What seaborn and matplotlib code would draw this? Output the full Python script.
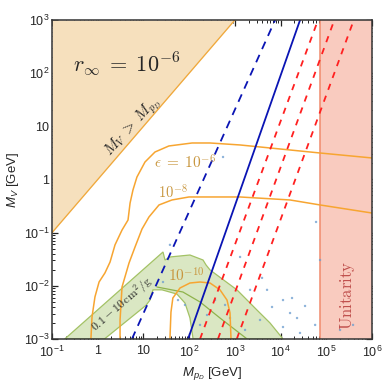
import numpy as np
import pandas as pd
import matplotlib
matplotlib.use("Agg")
import matplotlib.pyplot as plt
import matplotlib.ticker as mticker
import seaborn as sns

# ==============================
# Data
# ==============================

x_lim = [1e-1, 1e6]
y_lim = [1e-3, 1e3]

x_ticks = [1e-1, 1, 10, 1e2, 1e3, 1e4, 1e5, 1e6]
x_ticklabels = [r"$10^{-1}$", "1", "10", r"$10^{2}$", r"$10^{3}$", r"$10^{4}$", r"$10^{5}$", r"$10^{6}$"]
y_ticks = [1e-3, 1e-2, 1e-1, 1, 10, 1e2, 1e3]
y_ticklabels = [r"$10^{-3}$", r"$10^{-2}$", r"$10^{-1}$", "1", "10", r"$10^{2}$", r"$10^{3}$"]

# M_V = M_pD boundary
diag_x = [1e-1, 1e3]

# epsilon contours
eps6_x = [0.71, 0.75, 0.87, 1.07, 1.44, 1.86, 2.39, 3.4, 4.6, 5.1, 5.9, 7.2, 10.8, 17.9, 36, 116, 286, 1300, 16100, 73000, 1e6]
eps6_y = [1e-3, 2.6e-3, 6.2e-3, 0.0118, 0.0175, 0.028, 0.059, 0.112, 0.173, 0.36, 0.635, 1.11, 2.13, 3.29, 4.27, 4.86, 4.86, 4.46, 3.59, 3.15, 2.54]
eps8_x = [3.08, 3.08, 3.4, 4.84, 6.55, 9.3, 13.2, 21.9, 42, 99, 1300, 16100, 73000, 1e6]
eps8_y = [1e-3, 2.28e-3, 9.5e-3, 0.0269, 0.0538, 0.117, 0.197, 0.332, 0.412, 0.469, 0.469, 0.412, 0.332, 0.234]
eps10_x = [38, 40, 44, 63, 104, 173, 286, 473, 673, 783, 824]
eps10_y = [1e-3, 3.2e-3, 5.9e-3, 9.1e-3, 0.0113, 0.0118, 0.0113, 8.4e-3, 5.4e-3, 3.1e-3, 1e-3]

# self-interaction band 0.1 - 10 cm^2/g
band_x = [0.19, 26.8, 29.6, 38, 104, 201, 234, 286, 1110, 3050, 5880, 10800, 11200,
          122, 104, 81, 54, 25.5, 16.2, 13.9, 11.4, 1.4]
band_y = [1e-3, 0.0433, 0.0306, 0.0349, 0.038, 0.0306, 0.0247, 0.0199, 8.4e-3, 3.5e-3, 2.0e-3, 1.05e-3, 1e-3,
          1e-3, 2.5e-3, 4.75e-3, 7.0e-3, 8.4e-3, 8.4e-3, 5.4e-3, 4.3e-3, 1e-3]
band_mid_x = [19.8, 73, 173, 473, 1850]
band_mid_y = [9.5e-3, 7.65e-3, 4.97e-3, 2.48e-3, 1e-3]

# straight constraint lines (end points at y = 1e-3 and y = 1e3)
line_y = [1e-3, 1e3]
blue_dash_x = [5.6, 7.6e3]
blue_solid_x = [94.6, 2.67e4]
red_dash_x = [[173, 6.6e4], [427, 1.5e5], [1.1e3, 4.0e5]]

# unitarity bound
unitarity_x = 7.3e4

# scan points
dots_x = [5.97e4, 7.3e4, 5.7e4, 2.29e4, 1.61e4, 1.13e4, 6.5e3, 5.06e3, 3.93e3, 2.15e3, 1.3e3, 783, 610, 368,
          246, 173, 81, 57, 26.8, 1.78e4, 3.43e4, 3.55e3, 1.67e3, 1.13e4, 2.66e4, 2.0e5, 3.85e5, 551, 38]
dots_y = [0.159, 0.0306, 1.84e-3, 2.48e-3, 3.08e-3, 1.68e-3, 4.0e-3, 8.4e-3, 0.0141, 8.4e-3, 0.0349, 2.48e-3,
          4.37e-3, 5.4e-3, 2.83e-3, 1.84e-3, 4.37e-3, 5.4e-3, 0.0118, 5.9e-3, 4.18e-3, 2.28e-3, 1.48e-3, 5.4e-3,
          1.3e-3, 1.48e-3, 1.84e-3, 2.65, 0.059]

# ==============================
# Style
# ==============================

sns.set_style("ticks")
plt.rcParams["font.family"] = ["Liberation Sans", "DejaVu Sans"]
plt.rcParams["mathtext.fontset"] = "custom"
plt.rcParams["mathtext.rm"] = "Liberation Sans"
plt.rcParams["mathtext.it"] = "Liberation Sans:italic"
plt.rcParams["mathtext.bf"] = "Liberation Sans:bold"

fig = plt.figure(figsize=(3.83, 3.83), dpi=100)
ax = fig.add_axes([0.1358, 0.1149, 0.8355, 0.8329])
ax.set_xscale("log")
ax.set_yscale("log")

orange = "#f7a531"
label_col = "#c8963e"

# tan region M_V > M_pD
ax.fill_between(diag_x, diag_x, y_lim[1], color="#f6e0bd", lw=0, zorder=1)
sns.lineplot(x=diag_x, y=diag_x, ax=ax, color="#f0a83a", lw=0.9, zorder=2)

# unitarity region
ax.axvspan(unitarity_x, x_lim[1], color="#f9cbbf", lw=0, zorder=1)
ax.axvline(unitarity_x, color="#f08a6c", lw=1.1, zorder=2)

# green band
ax.fill(band_x, band_y, facecolor="#dae7c3", edgecolor="#a3c265", lw=0.9, zorder=2)
sns.lineplot(x=band_mid_x, y=band_mid_y, ax=ax, color="#8fb34c", lw=0.9, sort=False, estimator=None, zorder=3)

# scan points
sns.scatterplot(x=dots_x, y=dots_y, ax=ax, s=3, color="#6f9fd0", edgecolor="none", alpha=0.8, zorder=3)

# epsilon contours
for cx, cy in [(eps6_x, eps6_y), (eps8_x, eps8_y), (eps10_x, eps10_y)]:
    sns.lineplot(x=cx, y=cy, ax=ax, color=orange, lw=1.1, sort=False, estimator=None, zorder=4)

# constraint lines
sns.lineplot(x=blue_dash_x, y=line_y, ax=ax, color="#0a14b4", lw=1.3, zorder=5).lines[-1].set_dashes([4.5, 3.5])
sns.lineplot(x=blue_solid_x, y=line_y, ax=ax, color="#0a14b4", lw=1.3, zorder=5)
for rx in red_dash_x:
    sns.lineplot(x=rx, y=line_y, ax=ax, color="#ff2020", lw=1.3, zorder=5).lines[-1].set_dashes([3.5, 3.5])

# ==============================
# Texts
# ==============================

ax.text(4.38, 149, r"$r_\infty\;=\;10^{-6}$", fontsize=16, math_fontfamily="cm", ha="center", va="center", zorder=6)
ax.text(5.9, 9.7, r"$M_V\;>\;M_{p_D}$", fontsize=11, math_fontfamily="cm", rotation=48,
        ha="center", va="center", zorder=6)
ax.text(80, 2.04, r"$\epsilon\;=\;10^{-6}$", fontsize=11, math_fontfamily="cm", color=label_col,
        ha="center", va="center", zorder=6)
ax.text(44, 0.58, r"$10^{-8}$", fontsize=10.5, math_fontfamily="cm", color=label_col,
        ha="center", va="center", zorder=6)
ax.text(85, 0.0153, r"$10^{-10}$", fontsize=11, math_fontfamily="cm", color=label_col,
        ha="center", va="center", zorder=6)
ax.text(3.4, 4.5e-3, r"$0.1-10\,\mathrm{cm}^2/\mathrm{g}$", fontsize=8.5, math_fontfamily="cm", rotation=41,
        ha="center", va="center", zorder=6)
ax.text(2.84e5, 6.7e-3, r"$\mathrm{Unitarity}$", fontsize=12, math_fontfamily="cm", color="#c0504d",
        rotation=90, ha="center", va="center", zorder=6)

# ==============================
# Axes
# ==============================

ax.set_xlim(x_lim)
ax.set_ylim(y_lim)
ax.xaxis.set_major_locator(mticker.FixedLocator(x_ticks))
ax.xaxis.set_major_formatter(mticker.FixedFormatter(x_ticklabels))
ax.yaxis.set_major_locator(mticker.FixedLocator(y_ticks))
ax.yaxis.set_major_formatter(mticker.FixedFormatter(y_ticklabels))
ax.xaxis.set_minor_locator(mticker.LogLocator(base=10, subs=np.arange(2, 10), numticks=20))
ax.yaxis.set_minor_locator(mticker.LogLocator(base=10, subs=np.arange(2, 10), numticks=20))
ax.xaxis.set_minor_formatter(mticker.NullFormatter())
ax.yaxis.set_minor_formatter(mticker.NullFormatter())
ax.tick_params(which="both", direction="in", top=True, right=True, labelsize=9, color="#222222")
ax.tick_params(axis="x", pad=4.5)
ax.tick_params(axis="y", pad=2)
ax.tick_params(which="major", length=4, width=0.9)
ax.tick_params(which="minor", length=2, width=0.7)
for sp in ax.spines.values():
    sp.set_linewidth(1.1)
    sp.set_color("#333333")
    sp.set_zorder(7)

ax.set_xlabel(r"$M_{p_D}$ [GeV]", fontsize=9.5, labelpad=3.5)
ax.set_ylabel(r"$M_V$ [GeV]", fontsize=9.5, labelpad=2)

fig.savefig("out.png", dpi=100)
